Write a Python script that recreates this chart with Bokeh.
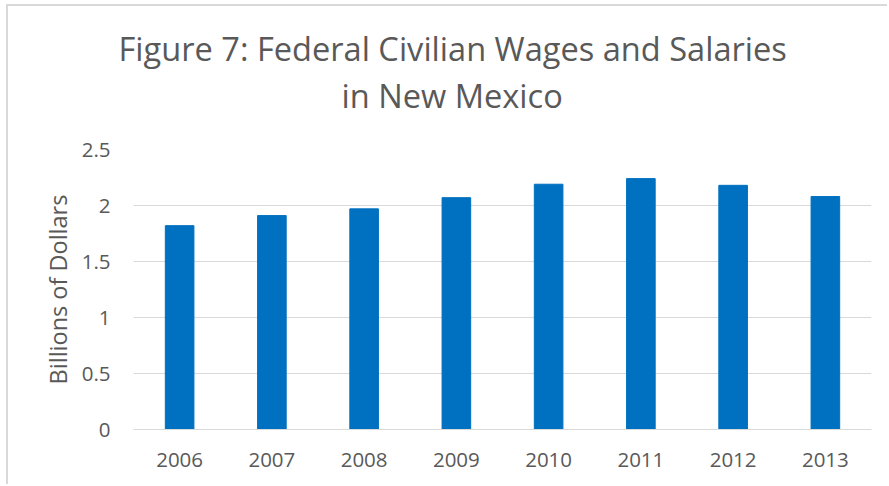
from bokeh.plotting import figure
from bokeh.models import Title, FactorRange, Range1d, ColumnDataSource
from bokeh.embed import file_html
from bokeh.resources import INLINE

years = ["2006", "2007", "2008", "2009", "2010", "2011", "2012", "2013"]
wages = [1.82, 1.91, 1.97, 2.07, 2.19, 2.24, 2.18, 2.08]
y_ticks = [0, 0.5, 1, 1.5, 2, 2.5]
y_tick_labels = {0: "0", 0.5: "0.5", 1: "1", 1.5: "1.5", 2: "2", 2.5: "2.5"}
title_line1 = "Figure 7: Federal Civilian Wages and Salaries"
title_line2 = "in New Mexico"

TEXT = "#595959"
FONT = "Open Sans"
W, H = 881, 480

src = ColumnDataSource(dict(year=years, wages=wages))

p = figure(
    x_range=FactorRange(*years),
    y_range=Range1d(0, 2.5),
    width=W, height=H,
    output_backend="svg", toolbar_location=None,
    min_border_left=125, min_border_right=18,
    min_border_top=143, min_border_bottom=57,
    styles={"margin-left": "6px", "margin-top": "4px",
            "border-left": "2px solid #d9d9d9", "border-top": "2px solid #d9d9d9"},
)
p.outline_line_color = None
p.vbar(x="year", top="wages", width=0.31, source=src, color="#0070C0")

spacer = Title(text=" ", standoff=29, text_font_size="1px")
t2 = Title(text=title_line2, align="left", offset=208, standoff=0,
           text_font=FONT, text_font_size="32.6px", text_font_style="normal",
           text_color=TEXT)
t1 = Title(text=title_line1, align="left", offset=-15, standoff=0,
           text_font=FONT, text_font_size="32.6px", text_font_style="normal",
           text_color=TEXT)
p.add_layout(spacer, "above")
p.add_layout(t2, "above")
p.add_layout(t1, "above")

p.xgrid.grid_line_color = None
p.ygrid.grid_line_color = "#d9d9d9"
p.ygrid.grid_line_width = 1
p.ygrid.ticker = y_ticks

p.yaxis.ticker = y_ticks
p.yaxis.major_label_overrides = y_tick_labels
p.yaxis.axis_label = "Billions of Dollars"
p.yaxis.axis_label_text_font = FONT
p.yaxis.axis_label_text_font_size = "23.5px"
p.yaxis.axis_label_text_font_style = "normal"
p.yaxis.axis_label_text_color = TEXT
p.yaxis.axis_label_standoff = 5

for ax in (p.xaxis, p.yaxis):
    ax.axis_line_color = None
    ax.major_tick_line_color = None
    ax.minor_tick_line_color = None
    ax.major_tick_out = 0
    ax.major_tick_in = 0
    ax.minor_tick_out = 0
    ax.major_label_text_font = FONT
    ax.major_label_text_font_size = "20.5px"
    ax.major_label_text_color = TEXT
p.yaxis.major_label_standoff = 23
p.xaxis.major_label_standoff = 23
p.xaxis.axis_line_color = "#d9d9d9"

open("out.html", "w").write(file_html(p, INLINE))
